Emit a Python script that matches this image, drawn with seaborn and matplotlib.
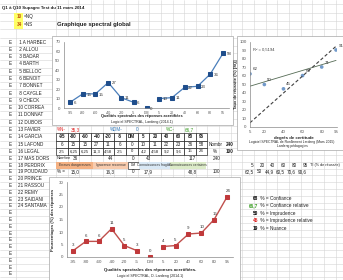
import numpy as np
import pandas as pd
import matplotlib
matplotlib.use("Agg")
import matplotlib.pyplot as plt
import seaborn as sns
from matplotlib.patches import Rectangle

# ---------------- data ----------------
categories = ["-95", "-80", "-60", "-40", "-20", "-5", "DM", "5", "20", "40", "60", "80", "95"]
segments = ["neg"] * 6 + ["dm"] + ["pos"] * 6
counts = [6, 15, 15, 27, 11, 6, 0, 10, 11, 22, 23, 36, 58]
percents = [2.5, 6.25, 6.25, 11.3, 4.58, 2.5, 0, 4.2, 4.58, 9.2, 9.6, 15, 24]
percent_text = ["2,5", "6,25", "6,25", "11,3", "4,58", "2,5", "0", "4,2", "4,58", "9,2", "9,6", "15", "24"]
certainty = [5, 20, 40, 60, 80, 95]
success = [62.5, 50, 44.9, 60.5, 70.6, 90.6]
success_text = ["62,5", "50", "44,9", "60,5", "70,6", "90,6"]
students = ["A HARBEC", "ALLOU", "BADAR", "BARTH", "BELLOC", "BENOIT", "BONNET", "CAYGLE",
            "CHECK", "CORREA", "DONNAT", "DUBOIS", "FAVIER", "GARCIA", "LAFOND", "LEGAL",
            "MAS DORS", "PERDRIX", "POUDAUD", "PRINCE", "RASSOU", "REMY", "SAIDANI", "SANTAMA"]
group_names = ["Erreurs dangereuses", "Ignorance reconnue", "DM", "Connaissances fragiles", "Connaissances certaines"]
group_counts = ["36", "44", "0", "43", "117"]
group_pcts = ["15,0", "16,3", "0", "17,9", "48,8"]
legend_values = ["68", "66,7", "50", "45", "19"]
legend_labels = ["Confiance", "Confiance relative", "Imprudence", "Imprudence relative", "Nuance"]

# ---------------- style ----------------
sns.set_style("white")
plt.rcParams["font.family"] = ["Liberation Sans", "DejaVu Sans"]
W, H = 343, 280
fig = plt.figure(figsize=(W / 100, H / 100), dpi=100)
bg = fig.add_axes([0, 0, 1, 1])
bg.set_xlim(0, W)
bg.set_ylim(H, 0)
bg.axis("off")

FS = 3.3
grid_c = "#d4d4d4"

# row centres
top_rows = [8.5, 16.5, 24.5, 33]
row_y = {}
for n in range(1, 17):
    row_y[n] = 42 + 7.3 * (n - 1)
for n in range(17, 36):
    row_y[n] = row_y[16] + 6.8 * (n - 16)
centres = top_rows + [row_y[n] for n in range(1, 36)]
edges = [4] + [(a + b) / 2 for a, b in zip(centres[:-1], centres[1:])]
for e in edges:
    bg.plot([0, W], [e, e], color=grid_c, lw=0.4, zorder=0)
col_edges = [16, 56] + [56 + 11.65 * k for k in range(1, 26)]
for c in col_edges:
    bg.plot([c, c], [0, H], color=grid_c, lw=0.4, zorder=0)

def txt(x, y, s, ha="left", size=FS, color="#222222", weight="normal", z=5, **kw):
    return bg.text(x, y, s, ha=ha, va="center", fontsize=size, color=color,
                   fontweight=weight, zorder=z, **kw)

# header
txt(2, top_rows[0], "Q1 à Q10 Supagro Test du 11 mars 2014", weight="bold", size=3.2)
bg.add_patch(Rectangle((14, 13), 9, 15.5, facecolor="#ffff66", edgecolor="none", zorder=1))
txt(22, top_rows[1], "10", ha="right", color="#c55a11", weight="bold")
txt(22, top_rows[2], "34", ha="right", color="#c55a11", weight="bold")
txt(24, top_rows[1], "=NQ")
txt(24, top_rows[2], "=NS")
txt(57, top_rows[2], "Graphique spectral global", weight="bold", size=4.3)

# student column
clip = Rectangle((0, 0), 55, H, transform=bg.transData, visible=False)
bg.add_patch(clip)
for n in range(1, 35):
    txt(10, row_y[n], "E", ha="center")
    if n <= len(students):
        t = txt(18, row_y[n], f"{n:>2} {students[n - 1]}")
        t.set_clip_path(clip)

# row 13 summary
x_cells = [56 + 11.65 * k for k in range(14)]
txt(57, row_y[13], "%N-", color="#e02020")
txt(71, row_y[13], "35,3", color="#e02020")
txt(110, row_y[13], "%DM-", color="#2e75b6")
txt(137, row_y[13], "0", color="#2e75b6", ha="center")
txt(166, row_y[13], "%C-", color="#3a9d23")
txt(185, row_y[13], "66,7", color="#3a9d23")

# table rows 14-16
for r, vals, wt in [(14, categories, "bold"), (15, [str(c) for c in counts], "normal"),
                    (16, percent_text, "normal")]:
    yc = row_y[r]
    top = yc - 3.65
    for k, v in enumerate(vals):
        bg.add_patch(Rectangle((x_cells[k], top), 11.65, 7.3, facecolor="white",
                               edgecolor="black", lw=0.4, zorder=3))
        txt(x_cells[k] + 5.8, yc, v, ha="center", weight=wt, size=3.1 if r == 16 else FS)
txt(209, row_y[15], "Nombr")
txt(230, row_y[15], "240", ha="center", weight="bold")
txt(213, row_y[16], "%")
txt(230, row_y[16], "100", ha="center", weight="bold")

# rows 17-19 groups
group_x = [(56, 93), (93, 128), (128, 139), (139, 170), (170, 206)]
group_col = ["#f4b183", "#f8cbad", "white", "#d9e8f5", "#dcebc8"]
txt(57, row_y[17], "Nombre", size=2.9)
txt(57, row_y[19], "% =")
val_x = [75, 110, 133.5, 148, 192]
for (a, b), name, c, n, p, xc in zip(group_x, group_names, group_col, group_counts, group_pcts, val_x):
    bg.add_patch(Rectangle((a, row_y[18] - 3.4), b - a, 6.8, facecolor=c,
                           edgecolor="black" if name == "DM" else "none", lw=0.4, zorder=1))
    txt((a + b) / 2, row_y[18], name, size=2.45, color="#333333", ha="center")
    txt(xc, row_y[17], n, ha="center")
    txt(xc, row_y[19], p, ha="center")
txt(213, row_y[17], "240")
txt(213, row_y[19], "100")
# right mini table
right_x = [252, 262, 272, 283, 294, 305]
for xr, c, s in zip(right_x, certainty, success_text):
    txt(xr, row_y[18], str(c), ha="center")
    txt(xr - 3, row_y[19], s, ha="center")
txt(310, row_y[18], "TI (% de réussite)", size=2.7)

# legend text (bottom right)
leg_colors = ["black", "#3a9d23", "black", "#e02020", "black"]
for i, (v, lab, c) in enumerate(zip(legend_values, legend_labels, leg_colors)):
    y = 198 + 7.6 * i
    txt(258, y, v, ha="right", color=c, weight="bold", size=3.4)
    txt(259, y, f" % = {lab}", size=3.4)

# chart frames
for (x0, y0, x1, y1) in [(52, 36, 233, 125), (237, 36, 346, 150), (49, 177, 240, 284)]:
    bg.add_patch(Rectangle((x0, y0), x1 - x0, y1 - y0, facecolor="white",
                           edgecolor="#a6a6a6", lw=0.5, zorder=4))

def ax_at(x0, y0, x1, y1):
    return fig.add_axes([x0 / W, 1 - y1 / H, (x1 - x0) / W, (y1 - y0) / H])

def style(ax):
    for s in ["top", "right"]:
        ax.spines[s].set_visible(False)
    for s in ["left", "bottom"]:
        ax.spines[s].set_color("#888888")
        ax.spines[s].set_linewidth(0.5)
    ax.tick_params(length=1.5, width=0.4, pad=1, labelsize=3.2, colors="#555555")
    ax.set_xlabel("")
    ax.set_ylabel("")
    ax.patch.set_alpha(0)

# ---- top line chart ----
df_top = pd.DataFrame({"pos": range(len(categories)), "val": counts, "seg": segments})
ax1 = ax_at(63.6, 42, 229.4, 108)
sns.lineplot(data=df_top, x="pos", y="val", units="seg", estimator=None, ax=ax1,
             color="#4a7ebb", lw=0.9, marker="s", markersize=2.4,
             markerfacecolor="#1f4e8c", markeredgecolor="#1f4e8c", legend=False)
ax1.set_xlim(-0.5, len(categories) - 0.5)
ax1.set_ylim(0, 70)
ax1.set_yticks(range(0, 71, 10))
ax1.set_xticks(range(len(categories)))
ax1.set_xticklabels(categories, fontsize=2.6)
for i, v in enumerate(counts):
    ax1.annotate(str(v), (i, v), xytext=(2.5, -0.5), textcoords="offset points",
                 fontsize=3.2, va="center", color="#333333")
style(ax1)
ax1.tick_params(axis="x", labelsize=2.6)
txt(142, 116.5, "Qualités spectrales des réponses acertifiées", ha="center", size=2.8, weight="bold", z=6)
txt(142, 121.5, "Logiciel SPECTRAL, Lardeng (2014.1)", ha="center", size=2.6, z=6)

# ---- scatter chart ----
ax3 = ax_at(250, 42, 337, 127)
sns.regplot(x=certainty, y=success, ci=None, ax=ax3, truncate=True,
            scatter_kws=dict(s=7, color="#4f81bd", edgecolor="none"),
            line_kws=dict(color="#556b55", lw=0.6))
ax3.axline((0, 0), slope=1, color="#404040", lw=0.8, ls=(0, (3, 2)))
ax3.set_xlim(5, 96)
ax3.set_ylim(0, 100)
ax3.set_xticks(certainty)
ax3.set_yticks(range(0, 101, 10))
for xv, yv in zip(certainty, success):
    ax3.annotate(f"{yv:.0f}", (xv, yv), xytext=(2, 2.5), textcoords="offset points",
                 fontsize=3.2, color="#333333")
r2 = np.corrcoef(certainty, success)[0, 1] ** 2
ax3.text(8, 90, f"R² = {r2:.4f}".replace(".", ","), fontsize=3.0, color="#444444")
style(ax3)
ax3.set_ylabel("Taux de réussite (%) [SQ]", fontsize=3.0, fontweight="bold", labelpad=1)
ax3.set_xlabel("degrés de certitude", fontsize=3.2, fontweight="bold", labelpad=1)
txt(292, 142, "Logiciel SPECTRAL de Ronflement Lardeng (Mars 2015)", ha="center", size=2.4, z=6)
txt(292, 146.5, "Lardeng pédagogies", ha="center", size=2.4, z=6)

# ---- bottom line chart ----
df_bot = pd.DataFrame({"pos": range(len(categories)), "val": percents, "seg": segments})
ax2 = ax_at(66.6, 182, 233.4, 257)
sns.lineplot(data=df_bot, x="pos", y="val", units="seg", estimator=None, ax=ax2,
             color="#c0504d", lw=1.0, marker="s", markersize=2.8,
             markerfacecolor="#c0393b", markeredgecolor="#c0393b", legend=False)
ax2.set_xlim(-0.5, len(categories) - 0.5)
ax2.set_ylim(0, 30)
ax2.set_yticks(range(0, 31, 5))
ax2.set_xticks(range(len(categories)))
ax2.set_xticklabels(categories)
for i, v in enumerate(percents):
    ax2.annotate(str(int(v + 0.5)), (i, v), xytext=(-1, 3.5), textcoords="offset points",
                 fontsize=3.2, color="#333333")
style(ax2)
ax2.set_ylabel("Pourcentages (%) des réponses", fontsize=3.0, fontweight="bold", labelpad=2)
txt(150, 270, "Qualités spectrales des réponses acertifiées.", ha="center", size=3.2, weight="bold", z=6)
txt(150, 276.5, "Logiciel SPECTRAL, D. Lardeng (2014.1)", ha="center", size=2.6, z=6)

fig.savefig("out.png", dpi=100)
